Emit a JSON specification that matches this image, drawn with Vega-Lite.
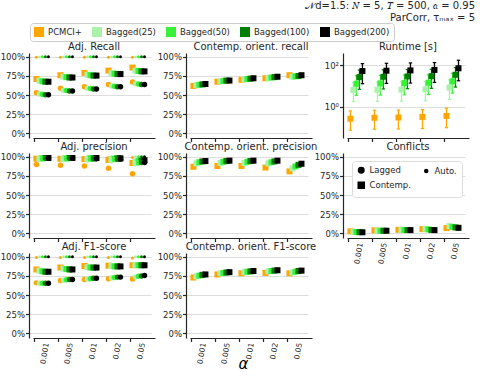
{
  "$schema": "https://vega.github.io/schema/vega-lite/v6.json",
  "padding": {"left": 0, "top": 0, "right": 0, "bottom": 0},
  "bounds": "flush",
  "columns": 3,
  "spacing": {"row": 15, "column": 35},
  "title": {
    "text": ["𝒩d=1.5: 𝑁 = 5, 𝑇 = 500, 𝑎 = 0.95", "ParCorr, τₘₐₓ = 5"],
    "anchor": "end", "align": "right", "fontSize": 10, "fontWeight": "normal",
    "color": "#262626", "dx": 6, "offset": 0, "lineHeight": 12
  },
  "datasets": {
    "m": [
      {"panel":"rec","alpha":"0.001","type":"Auto.","PCMCI+":0.995,"Bagged(25)":0.998,"Bagged(50)":1,"Bagged(100)":1,"Bagged(200)":1},
      {"panel":"rec","alpha":"0.005","type":"Auto.","PCMCI+":0.995,"Bagged(25)":0.998,"Bagged(50)":1,"Bagged(100)":1,"Bagged(200)":1},
      {"panel":"rec","alpha":"0.01","type":"Auto.","PCMCI+":0.995,"Bagged(25)":0.998,"Bagged(50)":1,"Bagged(100)":1,"Bagged(200)":1},
      {"panel":"rec","alpha":"0.02","type":"Auto.","PCMCI+":0.995,"Bagged(25)":0.998,"Bagged(50)":1,"Bagged(100)":1,"Bagged(200)":1},
      {"panel":"rec","alpha":"0.05","type":"Auto.","PCMCI+":0.995,"Bagged(25)":0.998,"Bagged(50)":1,"Bagged(100)":1,"Bagged(200)":1},
      {"panel":"rec","alpha":"0.001","type":"Contemp.","PCMCI+":0.71,"Bagged(25)":0.69,"Bagged(50)":0.68,"Bagged(100)":0.675,"Bagged(200)":0.675},
      {"panel":"rec","alpha":"0.005","type":"Contemp.","PCMCI+":0.76,"Bagged(25)":0.74,"Bagged(50)":0.735,"Bagged(100)":0.73,"Bagged(200)":0.73},
      {"panel":"rec","alpha":"0.01","type":"Contemp.","PCMCI+":0.79,"Bagged(25)":0.765,"Bagged(50)":0.76,"Bagged(100)":0.755,"Bagged(200)":0.755},
      {"panel":"rec","alpha":"0.02","type":"Contemp.","PCMCI+":0.82,"Bagged(25)":0.785,"Bagged(50)":0.78,"Bagged(100)":0.775,"Bagged(200)":0.775},
      {"panel":"rec","alpha":"0.05","type":"Contemp.","PCMCI+":0.86,"Bagged(25)":0.82,"Bagged(50)":0.815,"Bagged(100)":0.81,"Bagged(200)":0.81},
      {"panel":"rec","alpha":"0.001","type":"Lagged","PCMCI+":0.53,"Bagged(25)":0.515,"Bagged(50)":0.51,"Bagged(100)":0.505,"Bagged(200)":0.505},
      {"panel":"rec","alpha":"0.005","type":"Lagged","PCMCI+":0.59,"Bagged(25)":0.565,"Bagged(50)":0.56,"Bagged(100)":0.555,"Bagged(200)":0.555},
      {"panel":"rec","alpha":"0.01","type":"Lagged","PCMCI+":0.61,"Bagged(25)":0.59,"Bagged(50)":0.585,"Bagged(100)":0.58,"Bagged(200)":0.58},
      {"panel":"rec","alpha":"0.02","type":"Lagged","PCMCI+":0.64,"Bagged(25)":0.62,"Bagged(50)":0.615,"Bagged(100)":0.61,"Bagged(200)":0.61},
      {"panel":"rec","alpha":"0.05","type":"Lagged","PCMCI+":0.67,"Bagged(25)":0.65,"Bagged(50)":0.645,"Bagged(100)":0.64,"Bagged(200)":0.64},

      {"panel":"prec","alpha":"0.001","type":"Auto.","PCMCI+":0.99,"Bagged(25)":1,"Bagged(50)":1,"Bagged(100)":1,"Bagged(200)":1},
      {"panel":"prec","alpha":"0.005","type":"Auto.","PCMCI+":0.99,"Bagged(25)":1,"Bagged(50)":1,"Bagged(100)":1,"Bagged(200)":1},
      {"panel":"prec","alpha":"0.01","type":"Auto.","PCMCI+":0.99,"Bagged(25)":1,"Bagged(50)":1,"Bagged(100)":1,"Bagged(200)":1},
      {"panel":"prec","alpha":"0.02","type":"Auto.","PCMCI+":0.99,"Bagged(25)":1,"Bagged(50)":1,"Bagged(100)":1,"Bagged(200)":1},
      {"panel":"prec","alpha":"0.05","type":"Auto.","PCMCI+":0.99,"Bagged(25)":1,"Bagged(50)":1,"Bagged(100)":1,"Bagged(200)":1},
      {"panel":"prec","alpha":"0.001","type":"Contemp.","PCMCI+":0.975,"Bagged(25)":0.975,"Bagged(50)":0.98,"Bagged(100)":0.985,"Bagged(200)":0.985},
      {"panel":"prec","alpha":"0.005","type":"Contemp.","PCMCI+":0.975,"Bagged(25)":0.975,"Bagged(50)":0.98,"Bagged(100)":0.985,"Bagged(200)":0.985},
      {"panel":"prec","alpha":"0.01","type":"Contemp.","PCMCI+":0.97,"Bagged(25)":0.975,"Bagged(50)":0.98,"Bagged(100)":0.98,"Bagged(200)":0.985},
      {"panel":"prec","alpha":"0.02","type":"Contemp.","PCMCI+":0.96,"Bagged(25)":0.97,"Bagged(50)":0.975,"Bagged(100)":0.98,"Bagged(200)":0.98},
      {"panel":"prec","alpha":"0.05","type":"Contemp.","PCMCI+":0.92,"Bagged(25)":0.935,"Bagged(50)":0.945,"Bagged(100)":0.95,"Bagged(200)":0.955},
      {"panel":"prec","alpha":"0.001","type":"Lagged","PCMCI+":0.9,"Bagged(25)":0.965,"Bagged(50)":0.975,"Bagged(100)":0.98,"Bagged(200)":0.98},
      {"panel":"prec","alpha":"0.005","type":"Lagged","PCMCI+":0.89,"Bagged(25)":0.965,"Bagged(50)":0.975,"Bagged(100)":0.98,"Bagged(200)":0.98},
      {"panel":"prec","alpha":"0.01","type":"Lagged","PCMCI+":0.88,"Bagged(25)":0.96,"Bagged(50)":0.97,"Bagged(100)":0.975,"Bagged(200)":0.975},
      {"panel":"prec","alpha":"0.02","type":"Lagged","PCMCI+":0.85,"Bagged(25)":0.95,"Bagged(50)":0.965,"Bagged(100)":0.97,"Bagged(200)":0.97},
      {"panel":"prec","alpha":"0.05","type":"Lagged","PCMCI+":0.78,"Bagged(25)":0.91,"Bagged(50)":0.92,"Bagged(100)":0.925,"Bagged(200)":0.925},

      {"panel":"f1","alpha":"0.001","type":"Auto.","PCMCI+":0.99,"Bagged(25)":1,"Bagged(50)":1,"Bagged(100)":1,"Bagged(200)":1},
      {"panel":"f1","alpha":"0.005","type":"Auto.","PCMCI+":0.99,"Bagged(25)":1,"Bagged(50)":1,"Bagged(100)":1,"Bagged(200)":1},
      {"panel":"f1","alpha":"0.01","type":"Auto.","PCMCI+":0.99,"Bagged(25)":1,"Bagged(50)":1,"Bagged(100)":1,"Bagged(200)":1},
      {"panel":"f1","alpha":"0.02","type":"Auto.","PCMCI+":0.99,"Bagged(25)":1,"Bagged(50)":1,"Bagged(100)":1,"Bagged(200)":1},
      {"panel":"f1","alpha":"0.05","type":"Auto.","PCMCI+":0.985,"Bagged(25)":1,"Bagged(50)":1,"Bagged(100)":1,"Bagged(200)":1},
      {"panel":"f1","alpha":"0.001","type":"Contemp.","PCMCI+":0.835,"Bagged(25)":0.82,"Bagged(50)":0.81,"Bagged(100)":0.805,"Bagged(200)":0.805},
      {"panel":"f1","alpha":"0.005","type":"Contemp.","PCMCI+":0.86,"Bagged(25)":0.845,"Bagged(50)":0.84,"Bagged(100)":0.835,"Bagged(200)":0.835},
      {"panel":"f1","alpha":"0.01","type":"Contemp.","PCMCI+":0.88,"Bagged(25)":0.865,"Bagged(50)":0.86,"Bagged(100)":0.86,"Bagged(200)":0.86},
      {"panel":"f1","alpha":"0.02","type":"Contemp.","PCMCI+":0.885,"Bagged(25)":0.88,"Bagged(50)":0.875,"Bagged(100)":0.875,"Bagged(200)":0.875},
      {"panel":"f1","alpha":"0.05","type":"Contemp.","PCMCI+":0.89,"Bagged(25)":0.89,"Bagged(50)":0.89,"Bagged(100)":0.89,"Bagged(200)":0.89},
      {"panel":"f1","alpha":"0.001","type":"Lagged","PCMCI+":0.66,"Bagged(25)":0.655,"Bagged(50)":0.655,"Bagged(100)":0.655,"Bagged(200)":0.655},
      {"panel":"f1","alpha":"0.005","type":"Lagged","PCMCI+":0.69,"Bagged(25)":0.695,"Bagged(50)":0.7,"Bagged(100)":0.705,"Bagged(200)":0.705},
      {"panel":"f1","alpha":"0.01","type":"Lagged","PCMCI+":0.705,"Bagged(25)":0.71,"Bagged(50)":0.715,"Bagged(100)":0.72,"Bagged(200)":0.72},
      {"panel":"f1","alpha":"0.02","type":"Lagged","PCMCI+":0.715,"Bagged(25)":0.725,"Bagged(50)":0.73,"Bagged(100)":0.735,"Bagged(200)":0.735},
      {"panel":"f1","alpha":"0.05","type":"Lagged","PCMCI+":0.71,"Bagged(25)":0.735,"Bagged(50)":0.745,"Bagged(100)":0.75,"Bagged(200)":0.755},

      {"panel":"orec","alpha":"0.001","type":"Contemp.","PCMCI+":0.62,"Bagged(25)":0.63,"Bagged(50)":0.635,"Bagged(100)":0.64,"Bagged(200)":0.645},
      {"panel":"orec","alpha":"0.005","type":"Contemp.","PCMCI+":0.675,"Bagged(25)":0.68,"Bagged(50)":0.685,"Bagged(100)":0.69,"Bagged(200)":0.69},
      {"panel":"orec","alpha":"0.01","type":"Contemp.","PCMCI+":0.7,"Bagged(25)":0.705,"Bagged(50)":0.71,"Bagged(100)":0.715,"Bagged(200)":0.72},
      {"panel":"orec","alpha":"0.02","type":"Contemp.","PCMCI+":0.72,"Bagged(25)":0.72,"Bagged(50)":0.73,"Bagged(100)":0.735,"Bagged(200)":0.74},
      {"panel":"orec","alpha":"0.05","type":"Contemp.","PCMCI+":0.76,"Bagged(25)":0.74,"Bagged(50)":0.745,"Bagged(100)":0.75,"Bagged(200)":0.76},

      {"panel":"oprec","alpha":"0.001","type":"Contemp.","PCMCI+":0.87,"Bagged(25)":0.915,"Bagged(50)":0.93,"Bagged(100)":0.94,"Bagged(200)":0.945},
      {"panel":"oprec","alpha":"0.005","type":"Contemp.","PCMCI+":0.88,"Bagged(25)":0.92,"Bagged(50)":0.935,"Bagged(100)":0.945,"Bagged(200)":0.95},
      {"panel":"oprec","alpha":"0.01","type":"Contemp.","PCMCI+":0.88,"Bagged(25)":0.92,"Bagged(50)":0.935,"Bagged(100)":0.945,"Bagged(200)":0.95},
      {"panel":"oprec","alpha":"0.02","type":"Contemp.","PCMCI+":0.86,"Bagged(25)":0.915,"Bagged(50)":0.93,"Bagged(100)":0.94,"Bagged(200)":0.95},
      {"panel":"oprec","alpha":"0.05","type":"Contemp.","PCMCI+":0.81,"Bagged(25)":0.85,"Bagged(50)":0.875,"Bagged(100)":0.895,"Bagged(200)":0.91},

      {"panel":"of1","alpha":"0.001","type":"Contemp.","PCMCI+":0.73,"Bagged(25)":0.745,"Bagged(50)":0.755,"Bagged(100)":0.765,"Bagged(200)":0.77},
      {"panel":"of1","alpha":"0.005","type":"Contemp.","PCMCI+":0.77,"Bagged(25)":0.785,"Bagged(50)":0.79,"Bagged(100)":0.795,"Bagged(200)":0.8},
      {"panel":"of1","alpha":"0.01","type":"Contemp.","PCMCI+":0.785,"Bagged(25)":0.8,"Bagged(50)":0.805,"Bagged(100)":0.81,"Bagged(200)":0.815},
      {"panel":"of1","alpha":"0.02","type":"Contemp.","PCMCI+":0.79,"Bagged(25)":0.81,"Bagged(50)":0.815,"Bagged(100)":0.82,"Bagged(200)":0.825},
      {"panel":"of1","alpha":"0.05","type":"Contemp.","PCMCI+":0.785,"Bagged(25)":0.795,"Bagged(50)":0.805,"Bagged(100)":0.815,"Bagged(200)":0.82},

      {"panel":"conf","alpha":"0.001","type":"Contemp.","PCMCI+":0.027,"Bagged(25)":0.02,"Bagged(50)":0.018,"Bagged(100)":0.016,"Bagged(200)":0.015},
      {"panel":"conf","alpha":"0.005","type":"Contemp.","PCMCI+":0.04,"Bagged(25)":0.036,"Bagged(50)":0.035,"Bagged(100)":0.035,"Bagged(200)":0.035},
      {"panel":"conf","alpha":"0.01","type":"Contemp.","PCMCI+":0.047,"Bagged(25)":0.045,"Bagged(50)":0.044,"Bagged(100)":0.043,"Bagged(200)":0.043},
      {"panel":"conf","alpha":"0.02","type":"Contemp.","PCMCI+":0.056,"Bagged(25)":0.06,"Bagged(50)":0.052,"Bagged(100)":0.045,"Bagged(200)":0.043},
      {"panel":"conf","alpha":"0.05","type":"Contemp.","PCMCI+":0.07,"Bagged(25)":0.095,"Bagged(50)":0.085,"Bagged(100)":0.078,"Bagged(200)":0.073}
    ],
    "rt": [
      {"alpha":"0.001","method":"PCMCI+","v":0.27,"lo":0.076,"hi":0.64},
      {"alpha":"0.005","method":"PCMCI+","v":0.3,"lo":0.085,"hi":0.69},
      {"alpha":"0.01","method":"PCMCI+","v":0.31,"lo":0.087,"hi":0.71},
      {"alpha":"0.02","method":"PCMCI+","v":0.33,"lo":0.091,"hi":0.74},
      {"alpha":"0.05","method":"PCMCI+","v":0.37,"lo":0.1,"hi":0.87},
      {"alpha":"0.001","method":"Bagged(25)","v":6.5,"lo":1.8,"hi":15},
      {"alpha":"0.005","method":"Bagged(25)","v":6.6,"lo":1.85,"hi":15.5},
      {"alpha":"0.01","method":"Bagged(25)","v":6.8,"lo":1.9,"hi":16},
      {"alpha":"0.02","method":"Bagged(25)","v":7,"lo":1.95,"hi":16.5},
      {"alpha":"0.05","method":"Bagged(25)","v":8.5,"lo":2.3,"hi":20},
      {"alpha":"0.001","method":"Bagged(50)","v":13,"lo":3.6,"hi":32},
      {"alpha":"0.005","method":"Bagged(50)","v":13.5,"lo":3.7,"hi":33},
      {"alpha":"0.01","method":"Bagged(50)","v":14,"lo":3.8,"hi":34},
      {"alpha":"0.02","method":"Bagged(50)","v":14.5,"lo":3.9,"hi":35},
      {"alpha":"0.05","method":"Bagged(50)","v":17,"lo":4.6,"hi":41},
      {"alpha":"0.001","method":"Bagged(100)","v":27,"lo":7,"hi":59},
      {"alpha":"0.005","method":"Bagged(100)","v":28,"lo":7.3,"hi":61},
      {"alpha":"0.01","method":"Bagged(100)","v":29,"lo":7.5,"hi":63},
      {"alpha":"0.02","method":"Bagged(100)","v":30,"lo":7.8,"hi":65},
      {"alpha":"0.05","method":"Bagged(100)","v":35,"lo":9,"hi":78},
      {"alpha":"0.001","method":"Bagged(200)","v":53,"lo":13,"hi":120},
      {"alpha":"0.005","method":"Bagged(200)","v":55,"lo":13.5,"hi":125},
      {"alpha":"0.01","method":"Bagged(200)","v":57,"lo":14,"hi":130},
      {"alpha":"0.02","method":"Bagged(200)","v":60,"lo":15,"hi":135},
      {"alpha":"0.05","method":"Bagged(200)","v":72,"lo":18,"hi":175}
    ]
  },
  "concat": [
    {
      "title": "Adj. Recall", "width": 122, "height": 85,
      "data": {"name": "m"},
      "transform": [{"filter": "datum.panel == 'rec'"}, {"fold": ["PCMCI+","Bagged(25)","Bagged(50)","Bagged(100)","Bagged(200)"], "as": ["method","v"]}],
      "mark": {"type": "point", "filled": true, "opacity": 1},
      "encoding": {
        "x": {"field": "alpha", "type": "nominal", "sort": ["0.001","0.005","0.01","0.02","0.05"], "scale": {"paddingInner": 0, "paddingOuter": 0.04, "align": 1}, "axis": {"labels": false, "title": null, "bandPosition": 0}},
        "xOffset": {"field": "method", "type": "nominal", "scale": {"domain": ["PCMCI+","Bagged(25)","Bagged(50)","Bagged(100)","Bagged(200)","_p1","_p2","_p3"]}},
        "y": {"field": "v", "type": "quantitative", "scale": {"domain": [-0.06, 1.05], "nice": false, "zero": false}, "axis": {"values": [0,0.25,0.5,0.75,1], "format": ".0%", "title": null}},
        "color": {"field": "method", "type": "nominal", "scale": {"domain": ["PCMCI+","Bagged(25)","Bagged(50)","Bagged(100)","Bagged(200)"], "range": ["#FFA500","#aaf2aa","#38f038","#008000","#000000"]},
          "legend": {"title": null, "orient": "none", "legendX": -3, "legendY": -30, "direction": "horizontal", "columns": 5, "symbolType": "square", "symbolSize": 100, "symbolStrokeWidth": 0, "labelFontSize": 8.5, "labelOffset": 4, "columnPadding": 10, "padding": 4, "strokeColor": "#cccccc", "fillColor": "#ffffff", "cornerRadius": 3}},
        "shape": {"field": "type", "type": "nominal", "scale": {"domain": ["Lagged","Auto.","Contemp."], "range": ["circle","circle","square"]},
          "legend": {"title": null, "orient": "none", "legendX": 319, "legendY": 108, "direction": "horizontal", "columns": 2, "labelFontSize": 8.5, "labelOffset": 4, "columnPadding": 10, "rowPadding": 3, "padding": 5, "strokeColor": "#dddddd", "fillColor": "#ffffff", "cornerRadius": 3, "symbolFillColor": "#000000", "symbolStrokeColor": "#000000"}},
        "size": {"field": "type", "type": "nominal", "scale": {"type": "ordinal", "domain": ["Lagged","Auto.","Contemp."], "range": [30, 9, 36]},
          "legend": {"title": null, "orient": "none", "legendX": 319, "legendY": 108, "direction": "horizontal", "columns": 2, "labelFontSize": 8.5, "labelOffset": 4, "columnPadding": 10, "rowPadding": 3, "padding": 5, "strokeColor": "#dddddd", "fillColor": "#ffffff", "cornerRadius": 3, "symbolFillColor": "#000000", "symbolStrokeColor": "#000000"}}
      }
    },
    {
      "title": "Contemp. orient. recall", "width": 122, "height": 85,
      "data": {"name": "m"},
      "transform": [{"filter": "datum.panel == 'orec'"}, {"fold": ["PCMCI+","Bagged(25)","Bagged(50)","Bagged(100)","Bagged(200)"], "as": ["method","v"]}],
      "mark": {"type": "point", "filled": true, "opacity": 1},
      "encoding": {
        "x": {"field": "alpha", "type": "nominal", "sort": ["0.001","0.005","0.01","0.02","0.05"], "scale": {"paddingInner": 0, "paddingOuter": 0.04, "align": 1}, "axis": {"labels": false, "title": null, "bandPosition": 0}},
        "xOffset": {"field": "method", "type": "nominal", "scale": {"domain": ["PCMCI+","Bagged(25)","Bagged(50)","Bagged(100)","Bagged(200)","_p1","_p2","_p3"]}},
        "y": {"field": "v", "type": "quantitative", "scale": {"domain": [-0.06, 1.05], "nice": false, "zero": false}, "axis": {"values": [0,0.25,0.5,0.75,1], "format": ".0%", "title": null}},
        "color": {"field": "method", "type": "nominal", "scale": {"domain": ["PCMCI+","Bagged(25)","Bagged(50)","Bagged(100)","Bagged(200)"], "range": ["#FFA500","#aaf2aa","#38f038","#008000","#000000"]}},
        "shape": {"field": "type", "type": "nominal", "scale": {"domain": ["Lagged","Auto.","Contemp."], "range": ["circle","circle","square"]}},
        "size": {"field": "type", "type": "nominal", "scale": {"type": "ordinal", "domain": ["Lagged","Auto.","Contemp."], "range": [30, 9, 36]}}
      }
    },
    {
      "title": "Runtime [s]", "width": 122, "height": 85,
      "data": {"name": "rt"},
      "encoding": {
        "x": {"field": "alpha", "type": "nominal", "sort": ["0.001","0.005","0.01","0.02","0.05"], "scale": {"paddingInner": 0, "paddingOuter": 0.04, "align": 1}, "axis": {"labels": false, "title": null, "bandPosition": 0}},
        "xOffset": {"field": "method", "type": "nominal", "scale": {"domain": ["PCMCI+","Bagged(25)","Bagged(50)","Bagged(100)","Bagged(200)","_p1","_p2","_p3"]}},
        "color": {"field": "method", "type": "nominal", "scale": {"domain": ["PCMCI+","Bagged(25)","Bagged(50)","Bagged(100)","Bagged(200)"], "range": ["#FFA500","#aaf2aa","#38f038","#008000","#000000"]}}
      },
      "layer": [
        {"mark": {"type": "rule", "strokeWidth": 1.3},
         "encoding": {"y": {"field": "lo", "type": "quantitative", "scale": {"type": "log", "domain": [0.032, 390], "nice": false}, "axis": {"values": [1, 100], "labelExpr": "datum.value == 1 ? '10⁰' : '10²'", "title": null}}, "y2": {"field": "hi"}}},
        {"mark": {"type": "point", "shape": "stroke", "filled": false, "size": 12, "strokeWidth": 1.2, "opacity": 1},
         "encoding": {"y": {"field": "lo", "type": "quantitative"}}},
        {"mark": {"type": "point", "shape": "stroke", "filled": false, "size": 12, "strokeWidth": 1.2, "opacity": 1},
         "encoding": {"y": {"field": "hi", "type": "quantitative"}}},
        {"mark": {"type": "point", "shape": "square", "filled": true, "size": 36, "opacity": 1},
         "encoding": {"y": {"field": "v", "type": "quantitative"}}}
      ]
    },
    {
      "title": "Adj. precision", "width": 122, "height": 85,
      "data": {"name": "m"},
      "transform": [{"filter": "datum.panel == 'prec'"}, {"fold": ["PCMCI+","Bagged(25)","Bagged(50)","Bagged(100)","Bagged(200)"], "as": ["method","v"]}],
      "mark": {"type": "point", "filled": true, "opacity": 1},
      "encoding": {
        "x": {"field": "alpha", "type": "nominal", "sort": ["0.001","0.005","0.01","0.02","0.05"], "scale": {"paddingInner": 0, "paddingOuter": 0.04, "align": 1}, "axis": {"labels": false, "title": null, "bandPosition": 0}},
        "xOffset": {"field": "method", "type": "nominal", "scale": {"domain": ["PCMCI+","Bagged(25)","Bagged(50)","Bagged(100)","Bagged(200)","_p1","_p2","_p3"]}},
        "y": {"field": "v", "type": "quantitative", "scale": {"domain": [-0.06, 1.05], "nice": false, "zero": false}, "axis": {"values": [0,0.25,0.5,0.75,1], "format": ".0%", "title": null}},
        "color": {"field": "method", "type": "nominal", "scale": {"domain": ["PCMCI+","Bagged(25)","Bagged(50)","Bagged(100)","Bagged(200)"], "range": ["#FFA500","#aaf2aa","#38f038","#008000","#000000"]}},
        "shape": {"field": "type", "type": "nominal", "scale": {"domain": ["Lagged","Auto.","Contemp."], "range": ["circle","circle","square"]}},
        "size": {"field": "type", "type": "nominal", "scale": {"type": "ordinal", "domain": ["Lagged","Auto.","Contemp."], "range": [30, 9, 36]}}
      }
    },
    {
      "title": "Contemp. orient. precision", "width": 122, "height": 85,
      "data": {"name": "m"},
      "transform": [{"filter": "datum.panel == 'oprec'"}, {"fold": ["PCMCI+","Bagged(25)","Bagged(50)","Bagged(100)","Bagged(200)"], "as": ["method","v"]}],
      "mark": {"type": "point", "filled": true, "opacity": 1},
      "encoding": {
        "x": {"field": "alpha", "type": "nominal", "sort": ["0.001","0.005","0.01","0.02","0.05"], "scale": {"paddingInner": 0, "paddingOuter": 0.04, "align": 1}, "axis": {"labels": false, "title": null, "bandPosition": 0}},
        "xOffset": {"field": "method", "type": "nominal", "scale": {"domain": ["PCMCI+","Bagged(25)","Bagged(50)","Bagged(100)","Bagged(200)","_p1","_p2","_p3"]}},
        "y": {"field": "v", "type": "quantitative", "scale": {"domain": [-0.06, 1.05], "nice": false, "zero": false}, "axis": {"values": [0,0.25,0.5,0.75,1], "format": ".0%", "title": null}},
        "color": {"field": "method", "type": "nominal", "scale": {"domain": ["PCMCI+","Bagged(25)","Bagged(50)","Bagged(100)","Bagged(200)"], "range": ["#FFA500","#aaf2aa","#38f038","#008000","#000000"]}},
        "shape": {"field": "type", "type": "nominal", "scale": {"domain": ["Lagged","Auto.","Contemp."], "range": ["circle","circle","square"]}},
        "size": {"field": "type", "type": "nominal", "scale": {"type": "ordinal", "domain": ["Lagged","Auto.","Contemp."], "range": [30, 9, 36]}}
      }
    },
    {
      "title": "Conflicts", "width": 122, "height": 85,
      "data": {"name": "m"},
      "transform": [{"filter": "datum.panel == 'conf'"}, {"fold": ["PCMCI+","Bagged(25)","Bagged(50)","Bagged(100)","Bagged(200)"], "as": ["method","v"]}],
      "mark": {"type": "point", "filled": true, "opacity": 1},
      "encoding": {
        "x": {"field": "alpha", "type": "nominal", "sort": ["0.001","0.005","0.01","0.02","0.05"], "scale": {"paddingInner": 0, "paddingOuter": 0.04, "align": 1}, "axis": {"labels": true, "labelAngle": -80, "labelFontSize": 7.5, "title": null, "bandPosition": 0}},
        "xOffset": {"field": "method", "type": "nominal", "scale": {"domain": ["PCMCI+","Bagged(25)","Bagged(50)","Bagged(100)","Bagged(200)","_p1","_p2","_p3"]}},
        "y": {"field": "v", "type": "quantitative", "scale": {"domain": [-0.06, 1.05], "nice": false, "zero": false}, "axis": {"values": [0,0.25,0.5,0.75,1], "format": ".0%", "title": null}},
        "color": {"field": "method", "type": "nominal", "scale": {"domain": ["PCMCI+","Bagged(25)","Bagged(50)","Bagged(100)","Bagged(200)"], "range": ["#FFA500","#aaf2aa","#38f038","#008000","#000000"]}},
        "shape": {"field": "type", "type": "nominal", "scale": {"domain": ["Lagged","Auto.","Contemp."], "range": ["circle","circle","square"]}},
        "size": {"field": "type", "type": "nominal", "scale": {"type": "ordinal", "domain": ["Lagged","Auto.","Contemp."], "range": [30, 9, 36]}}
      }
    },
    {
      "title": "Adj. F1-score", "width": 122, "height": 85,
      "data": {"name": "m"},
      "transform": [{"filter": "datum.panel == 'f1'"}, {"fold": ["PCMCI+","Bagged(25)","Bagged(50)","Bagged(100)","Bagged(200)"], "as": ["method","v"]}],
      "mark": {"type": "point", "filled": true, "opacity": 1},
      "encoding": {
        "x": {"field": "alpha", "type": "nominal", "sort": ["0.001","0.005","0.01","0.02","0.05"], "scale": {"paddingInner": 0, "paddingOuter": 0.04, "align": 1}, "axis": {"labels": true, "labelAngle": -80, "labelFontSize": 7.5, "title": null, "bandPosition": 0}},
        "xOffset": {"field": "method", "type": "nominal", "scale": {"domain": ["PCMCI+","Bagged(25)","Bagged(50)","Bagged(100)","Bagged(200)","_p1","_p2","_p3"]}},
        "y": {"field": "v", "type": "quantitative", "scale": {"domain": [-0.06, 1.05], "nice": false, "zero": false}, "axis": {"values": [0,0.25,0.5,0.75,1], "format": ".0%", "title": null}},
        "color": {"field": "method", "type": "nominal", "scale": {"domain": ["PCMCI+","Bagged(25)","Bagged(50)","Bagged(100)","Bagged(200)"], "range": ["#FFA500","#aaf2aa","#38f038","#008000","#000000"]}},
        "shape": {"field": "type", "type": "nominal", "scale": {"domain": ["Lagged","Auto.","Contemp."], "range": ["circle","circle","square"]}},
        "size": {"field": "type", "type": "nominal", "scale": {"type": "ordinal", "domain": ["Lagged","Auto.","Contemp."], "range": [30, 9, 36]}}
      }
    },
    {
      "title": "Contemp. orient. F1-score", "width": 122, "height": 85,
      "data": {"name": "m"},
      "transform": [{"filter": "datum.panel == 'of1'"}, {"fold": ["PCMCI+","Bagged(25)","Bagged(50)","Bagged(100)","Bagged(200)"], "as": ["method","v"]}],
      "mark": {"type": "point", "filled": true, "opacity": 1},
      "encoding": {
        "x": {"field": "alpha", "type": "nominal", "sort": ["0.001","0.005","0.01","0.02","0.05"], "scale": {"paddingInner": 0, "paddingOuter": 0.04, "align": 1}, "axis": {"labels": true, "labelAngle": -80, "labelFontSize": 7.5, "title": "α", "titleFontSize": 15, "titleFontStyle": "italic", "titleFontWeight": "normal", "titleX": 53, "titleY": 18, "titleBaseline": "top", "bandPosition": 0}},
        "xOffset": {"field": "method", "type": "nominal", "scale": {"domain": ["PCMCI+","Bagged(25)","Bagged(50)","Bagged(100)","Bagged(200)","_p1","_p2","_p3"]}},
        "y": {"field": "v", "type": "quantitative", "scale": {"domain": [-0.06, 1.05], "nice": false, "zero": false}, "axis": {"values": [0,0.25,0.5,0.75,1], "format": ".0%", "title": null}},
        "color": {"field": "method", "type": "nominal", "scale": {"domain": ["PCMCI+","Bagged(25)","Bagged(50)","Bagged(100)","Bagged(200)"], "range": ["#FFA500","#aaf2aa","#38f038","#008000","#000000"]}},
        "shape": {"field": "type", "type": "nominal", "scale": {"domain": ["Lagged","Auto.","Contemp."], "range": ["circle","circle","square"]}},
        "size": {"field": "type", "type": "nominal", "scale": {"type": "ordinal", "domain": ["Lagged","Auto.","Contemp."], "range": [30, 9, 36]}}
      }
    }
  ],
  "resolve": {"scale": {"color": "shared", "shape": "shared", "size": "shared"}},
  "config": {
    "font": "DejaVu Sans",
    "view": {"stroke": null},
    "axis": {"domainColor": "#262626", "domainWidth": 1.2, "tickColor": "#262626", "tickWidth": 1.2, "tickSize": 3.5, "labelColor": "#262626", "labelFontSize": 8.5, "gridColor": "#dddddd", "gridWidth": 1, "labelPadding": 1},
    "axisY": {"offset": 4, "grid": true},
    "axisX": {"grid": false},
    "title": {"fontSize": 10, "fontWeight": "normal", "color": "#262626", "offset": 1},
    "legend": {"labelColor": "#262626", "labelFont": "DejaVu Sans"}
  }
}
